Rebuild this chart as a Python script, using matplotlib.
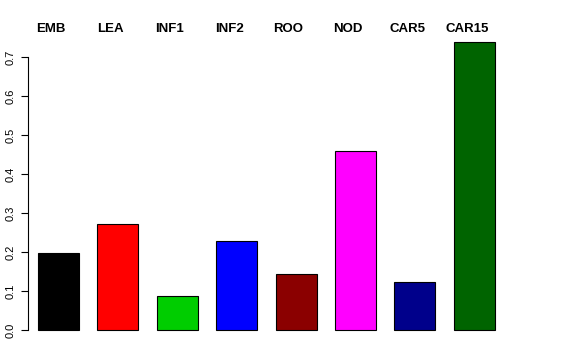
import numpy as np
import matplotlib.pyplot as plt
import matplotlib.transforms as mtransforms

plt.rcParams['font.family'] = ['Liberation Sans', 'DejaVu Sans']

tissues = ["EMB", "LEA", "INF1", "INF2", "ROO", "NOD", "CAR5", "CAR15"]
values = [0.198, 0.273, 0.086, 0.229, 0.144, 0.460, 0.124, 0.738]
colors = ["black", "red", "#00CD00", "blue", "#8B0000", "magenta", "#00008B", "#006400"]
yticks = [0.0, 0.1, 0.2, 0.3, 0.4, 0.5, 0.6, 0.7]

W, H = 576, 360
fig = plt.figure(figsize=(W / 100, H / 100), dpi=100)

# plot region in pixels: left spine at 28, right 504, top 43, bottom 340
left, right, top, bottom = 28, 504, 43, 340
ax = fig.add_axes([left / W, (H - bottom) / H, (right - left) / W, (bottom - top) / H])

px_per_unit = 49.5
x = 0.2 + 1.2 * np.arange(len(tissues)) + 0.415
ax.bar(x, values, width=0.83, color=colors, edgecolor="black", linewidth=0.8, clip_on=False)
ax.set_xlim(0, (right - left) / px_per_unit)

ppy = 39.0  # pixels per 0.1
ax.set_ylim(-(bottom - 330) / (ppy * 10), (330 - top) / (ppy * 10))

for s in ["top", "right", "bottom"]:
    ax.spines[s].set_visible(False)
ax.spines["left"].set_bounds(0, 0.7)
ax.spines["left"].set_linewidth(0.8)
ax.set_xticks([])
ax.set_yticks(yticks)
ax.set_yticklabels([f"{v:.1f}" for v in yticks], rotation=90, va="center", fontsize=8)
ax.tick_params(axis="y", length=5, width=0.8, pad=4)

# tissue names in a row above the plot
trans = mtransforms.blended_transform_factory(ax.transData, fig.transFigure)
for xi, name in zip(x, tissues):
    ax.text(xi - 7.5 / px_per_unit, (H - 29) / H, name, transform=trans,
            ha="center", va="center", fontsize=9.5, fontweight="bold")

fig.savefig("out.png", dpi=100)
